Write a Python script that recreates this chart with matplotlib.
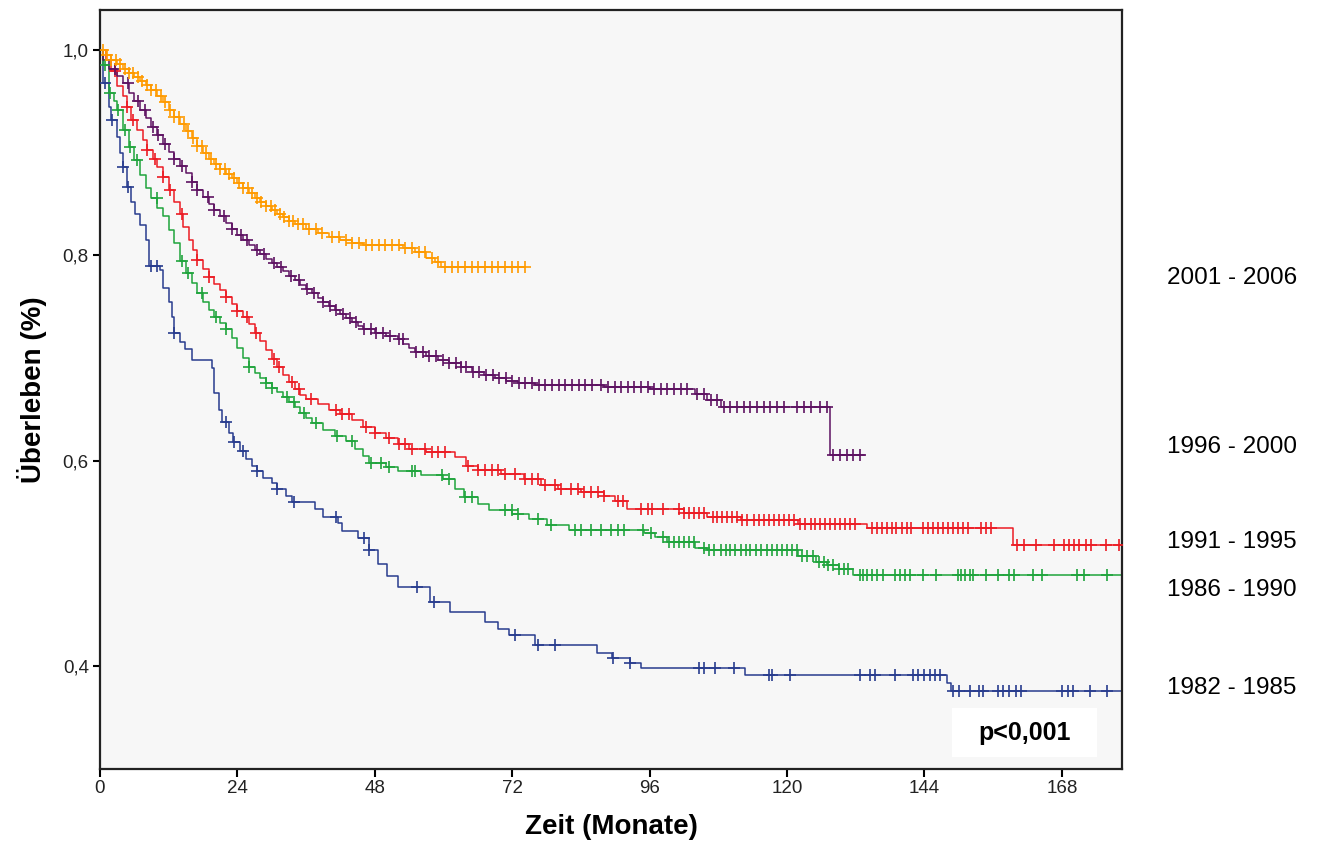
import numpy as np
import matplotlib.pyplot as plt
from matplotlib.patches import Rectangle

# Kaplan-Meier steps per period (time in months, survival after each step)
orange_t = [0, 1, 2, 3, 4, 5, 6, 7, 8, 9, 10, 11, 12, 13, 14, 15, 16, 17, 18, 19, 20,
            21, 22, 23, 24, 25, 26, 27, 28, 29, 30, 31, 32, 33, 34, 36, 38, 40, 42, 44,
            46, 53, 55, 57, 58.5, 59.5]
orange_s = [1.0, 0.995, 0.99, 0.986, 0.982, 0.978, 0.974, 0.970, 0.966, 0.961, 0.955,
            0.949, 0.942, 0.935, 0.928, 0.921, 0.914, 0.907, 0.900, 0.894, 0.889, 0.884,
            0.879, 0.875, 0.871, 0.866, 0.861, 0.856, 0.852, 0.848, 0.844, 0.840, 0.837,
            0.834, 0.831, 0.826, 0.822, 0.818, 0.815, 0.812, 0.810, 0.807, 0.803, 0.798,
            0.794, 0.789]
orange_end = 74.2
orange_cens = [0.5, 1.2, 2.0, 2.8, 3.5, 4.3, 5.0, 5.8, 6.6, 7.4, 8.2, 9.0, 9.8, 10.6, 11.4,
               12.2, 13.0, 13.8, 14.6, 15.4, 16.2, 17.0, 17.8, 18.6, 19.4, 20.2, 21.0, 21.8,
               22.6, 23.4, 24.2, 25.0, 25.8, 26.6, 27.4, 28.2, 29.0, 29.8, 30.6, 31.4, 32.2,
               33.0, 33.8, 34.6, 35.4, 36.5, 37.7, 38.8, 40.6, 41.7, 42.9, 44.1, 45.2, 46.4,
               47.5, 48.7, 49.8, 51.0, 52.2, 53.3, 54.5, 55.7, 56.8, 58.0, 59.1, 60.3, 61.4,
               62.6, 63.8, 64.9, 66.1, 67.2, 68.4, 69.6, 70.7, 71.9, 73.0, 74.2]

purple_t = [0, 0.5, 1.5, 3, 4, 5, 6, 7, 8, 9, 10, 11, 12, 13, 14, 15, 16, 17, 18, 19, 20,
            21, 22, 23, 24, 25, 26, 27, 28, 29, 30, 31, 32, 33, 34, 35, 36, 37, 38, 39, 40,
            41, 42, 43, 44, 45, 46, 48, 50, 52, 53, 54, 55, 57, 59, 61, 63, 65, 67, 69, 71,
            73, 76, 88, 96, 104, 106, 108.5, 127.5]
purple_s = [1.0, 0.99, 0.982, 0.975, 0.968, 0.958, 0.950, 0.942, 0.934, 0.925, 0.917,
            0.909, 0.901, 0.894, 0.887, 0.880, 0.872, 0.864, 0.857, 0.850, 0.844, 0.838,
            0.832, 0.826, 0.820, 0.815, 0.810, 0.805, 0.801, 0.797, 0.793, 0.789, 0.785,
            0.780, 0.776, 0.771, 0.767, 0.763, 0.759, 0.755, 0.751, 0.747, 0.743, 0.739,
            0.735, 0.731, 0.728, 0.725, 0.722, 0.719, 0.714, 0.710, 0.706, 0.702, 0.698,
            0.695, 0.691, 0.687, 0.684, 0.681, 0.678, 0.676, 0.674, 0.672, 0.670, 0.665,
            0.659, 0.652, 0.606]
purple_end = 133.4
purple_cens = [2.6, 4.9, 6.6, 7.8, 9.2, 10.1, 11.3, 13.0, 14.3, 16.0, 17.0, 18.8, 20.0,
               21.7, 23.0, 24.7, 25.7, 27.5, 28.7, 30.4, 31.7, 33.4, 34.8, 36.1, 37.3, 39.0,
               40.2, 41.3, 42.5, 43.6, 44.8, 46.2, 47.4, 48.3, 49.4, 50.6, 52.3, 52.9, 55.2,
               56.4, 57.5, 58.7, 59.9, 61.0, 62.2, 63.0, 63.9, 65.1, 66.2, 67.4, 68.6, 69.7,
               70.9, 72.0, 73.2, 74.3, 75.5, 76.7, 77.8, 79.0, 80.2, 81.3, 82.5, 83.7, 84.8,
               86.0, 87.5, 88.7, 89.9, 91.0, 92.2, 93.3, 94.5, 95.7, 96.8, 98.0, 99.1, 100.3,
               101.4, 102.6, 104.3, 105.5, 106.7, 107.8, 109.0, 110.1, 111.3, 112.5, 113.6,
               114.8, 115.9, 117.1, 118.3, 119.4, 121.7, 122.9, 124.1, 125.8, 127.0, 128.1,
               129.3, 130.4, 131.6, 132.8]

red_t = [0, 1, 2, 3, 4, 4.7, 5.5, 6.5, 7.5, 8.3, 9.2, 10, 11, 12, 13, 14, 14.5, 15.5, 16.3,
         17, 18, 19, 20, 21, 22, 23, 24, 25, 26, 27, 28, 29, 30, 31, 32, 33, 34, 35, 36, 38,
         40, 42, 44, 46, 48, 50, 52, 54, 57, 62, 64, 66, 70, 74, 77, 80, 84, 88, 90, 92, 102,
         106, 112, 122, 134, 159.5]
red_s = [1.0, 0.99, 0.98, 0.965, 0.955, 0.945, 0.932, 0.922, 0.912, 0.903, 0.894, 0.886,
         0.876, 0.864, 0.852, 0.840, 0.828, 0.815, 0.805, 0.796, 0.787, 0.779, 0.772, 0.766,
         0.760, 0.753, 0.746, 0.740, 0.733, 0.725, 0.717, 0.708, 0.699, 0.691, 0.684, 0.677,
         0.670, 0.664, 0.660, 0.655, 0.650, 0.646, 0.640, 0.633, 0.627, 0.622, 0.616, 0.612,
         0.609, 0.604, 0.595, 0.591, 0.587, 0.582, 0.577, 0.573, 0.570, 0.566, 0.561, 0.553,
         0.549, 0.545, 0.542, 0.539, 0.535, 0.518]
red_end = 178.5
red_cens = [2.6, 4.7, 5.7, 8.3, 9.6, 11.0, 12.2, 14.3, 17.0, 19.1, 22.1, 24.0, 25.6, 27.3,
            30.4, 31.3, 33.6, 34.8, 36.9, 41.2, 42.3, 43.5, 46.4, 48.1, 50.4, 52.2, 53.3,
            54.5, 56.8, 58.0, 59.1, 60.3, 64.3, 66.1, 67.2, 68.4, 69.6, 70.7, 72.5, 74.2,
            75.4, 76.5, 77.7, 79.4, 80.6, 82.3, 83.5, 84.6, 85.8, 87.0, 88.1, 90.4, 91.3,
            94.5, 95.7, 96.5, 98.3, 101.2, 102.0, 102.9, 103.8, 104.6, 105.5, 107.0, 107.8,
            108.7, 109.6, 110.4, 111.3, 112.2, 113.0, 114.2, 115.1, 115.9, 116.8, 117.7,
            118.6, 119.4, 120.3, 121.2, 122.3, 123.2, 124.1, 124.9, 125.8, 126.7, 127.5,
            128.4, 129.3, 130.1, 131.0, 131.9, 134.8, 135.7, 136.5, 137.4, 138.3, 139.1,
            140.0, 140.9, 141.7, 143.8, 144.6, 145.5, 146.4, 147.2, 148.1, 149.0, 149.9,
            150.7, 151.6, 153.9, 154.8, 155.7, 160.2, 161.4, 163.5, 166.7, 168.4, 169.3,
            170.2, 171.0, 172.3, 173.1, 175.7, 178.0]

green_t = [0, 0.5, 1.5, 2.5, 3, 4, 5, 6, 7, 8, 9, 10, 11, 12, 13, 14, 15, 16, 17, 18, 19,
           20, 21, 22, 23, 24, 25, 26, 27, 28, 29, 30, 31, 32, 33, 34, 35, 36, 37, 39, 41,
           43, 44.5, 46, 47, 50, 52, 56, 60, 62, 63.5, 66, 68, 72, 75, 78, 82, 95, 97, 99,
           104, 106, 122, 125, 127, 129, 131.5]
green_s = [1.0, 0.985, 0.958, 0.950, 0.942, 0.922, 0.906, 0.893, 0.878, 0.866, 0.856,
           0.846, 0.838, 0.825, 0.812, 0.795, 0.783, 0.773, 0.763, 0.755, 0.747, 0.740,
           0.734, 0.728, 0.720, 0.710, 0.700, 0.691, 0.686, 0.681, 0.676, 0.671, 0.667,
           0.662, 0.657, 0.652, 0.647, 0.642, 0.637, 0.630, 0.624, 0.619, 0.612, 0.605,
           0.598, 0.594, 0.590, 0.586, 0.582, 0.573, 0.565, 0.558, 0.552, 0.548, 0.543,
           0.538, 0.533, 0.530, 0.526, 0.521, 0.515, 0.513, 0.507, 0.502, 0.499, 0.495,
           0.489]
green_end = 178.5
green_cens = [0.9, 1.7, 3.1, 4.3, 5.2, 6.4, 9.9, 14.3, 15.3, 17.9, 20.3, 22.1, 26.1, 29.0,
              30.1, 32.7, 33.9, 35.7, 37.7, 41.4, 44.0, 47.3, 49.0, 50.4, 54.5, 55.1, 59.7,
              60.9, 63.8, 64.9, 70.7, 71.9, 73.0, 76.5, 78.8, 82.9, 84.1, 85.8, 87.5, 89.3,
              90.4, 91.6, 94.8, 96.2, 98.3, 99.4, 100.3, 101.2, 102.0, 102.9, 103.8, 105.5,
              106.4, 107.2, 108.4, 109.3, 110.1, 111.0, 111.9, 112.8, 113.6, 114.5, 115.4,
              116.5, 117.4, 118.3, 119.1, 120.0, 120.9, 121.7, 122.6, 123.5, 124.6, 125.5,
              126.4, 127.2, 128.1, 129.0, 129.9, 130.7, 132.8, 133.3, 133.9, 134.8, 135.7,
              136.8, 138.8, 139.7, 140.6, 141.4, 143.8, 146.1, 149.9, 150.4, 151.0, 151.9,
              152.5, 154.8, 156.8, 158.8, 159.7, 162.9, 164.6, 170.7, 171.9, 175.9]

blue_t = [0, 0.5, 1.5, 2, 3, 3.5, 4, 4.8, 5.5, 6.2, 7, 8, 8.5, 10.5, 11, 12, 12.6, 13, 14,
          14.8, 16, 19.5, 20, 20.8, 21.4, 22.5, 23.3, 24.5, 25.5, 26.5, 27.5, 28.5, 30, 31,
          32.5, 33.5, 37.5, 39, 41.5, 42.3, 45, 47, 48.5, 50.2, 52, 57.6, 61.2, 67.2, 69.5,
          71.5, 76, 86.8, 89.5, 92.5, 94.5, 112.6, 148, 148.6]
blue_s = [1.0, 0.968, 0.945, 0.932, 0.915, 0.900, 0.886, 0.867, 0.852, 0.840, 0.830, 0.815,
          0.790, 0.786, 0.768, 0.755, 0.740, 0.725, 0.716, 0.709, 0.698, 0.690, 0.666, 0.650,
          0.638, 0.627, 0.618, 0.610, 0.602, 0.595, 0.590, 0.583, 0.578, 0.573, 0.566, 0.560,
          0.553, 0.545, 0.540, 0.532, 0.525, 0.513, 0.500, 0.488, 0.477, 0.463, 0.453, 0.443,
          0.436, 0.430, 0.421, 0.413, 0.408, 0.403, 0.398, 0.392, 0.384, 0.376]
blue_end = 178.5
blue_cens = [0.9, 2.1, 4.0, 4.9, 9.0, 9.9, 13.0, 22.1, 23.5, 24.9, 27.5, 31.0, 33.9, 41.2,
             46.1, 47.0, 55.3, 58.3, 72.5, 76.5, 79.5, 89.6, 92.5, 104.6, 105.5, 107.5,
             110.7, 116.8, 117.4, 120.6, 132.8, 134.5, 135.4, 138.8, 142.0, 142.9, 144.0,
             144.9, 145.8, 146.7, 149.0, 150.1, 151.9, 153.6, 154.2, 156.8, 157.7, 158.8,
             160.0, 160.9, 168.1, 169.0, 169.9, 173.0, 175.9]

periods = ['2001 - 2006', '1996 - 2000', '1991 - 1995', '1986 - 1990', '1982 - 1985']
x_ticks = [0, 24, 48, 72, 96, 120, 144, 168]
y_ticks = [0.4, 0.6, 0.8, 1.0]
y_ticklabels = ['0,4', '0,6', '0,8', '1,0']

# layout / style
colors = ['#ff9a00', '#5e1262', '#ec1c24', '#1fa43c', '#283c8e']
label_y = [0.778, 0.614, 0.521, 0.474, 0.379]   # data-y of the right-hand labels
narrow = ['Liberation Sans Narrow', 'Liberation Sans', 'DejaVu Sans']
arial = ['Liberation Sans', 'DejaVu Sans']

fig = plt.figure(figsize=(13.22, 8.5), dpi=100)
ax = fig.add_axes([0.0756, 0.0953, 0.7731, 0.8929])
ax.set_facecolor('#f7f7f7')

groups = [
    (orange_t, orange_s, orange_end, orange_cens),
    (purple_t, purple_s, purple_end, purple_cens),
    (red_t, red_s, red_end, red_cens),
    (green_t, green_s, green_end, green_cens),
    (blue_t, blue_s, blue_end, blue_cens),
]

for (t, s, end, cens), col in zip(reversed(groups), reversed(colors)):
    t = np.array(t, float)
    s = np.array(s, float)
    ax.step(np.append(t, end), np.append(s, s[-1]), where='post', color=col, lw=1.1,
            zorder=2)
    c = np.array(cens, float)
    cy = s[np.searchsorted(t, c, side='right') - 1]
    ax.plot(c, cy, ls='none', marker='+', ms=8.5, mew=1.2, color=col, zorder=3)

ax.set_xlim(0, 178.5)
ax.set_ylim(0.30, 1.039)

ax.set_xticks(x_ticks)
ax.set_xticklabels([str(v) for v in x_ticks], family=narrow, fontsize=13.5,
                   color='#222222')
ax.set_yticks(y_ticks)
ax.set_yticklabels(y_ticklabels, family=narrow, fontsize=13.5, color='#222222')
ax.tick_params(axis='x', direction='out', length=6, width=1.5, pad=2)
ax.tick_params(axis='y', direction='out', length=5, width=1.5, pad=3)

for sp in ax.spines.values():
    sp.set_linewidth(1.6)
    sp.set_color('#222222')

ax.set_xlabel('Zeit (Monate)', family=arial, fontsize=20, fontweight='bold', labelpad=12)
ax.set_ylabel('Überleben (%)', family=arial, fontsize=20, fontweight='bold')
ax.yaxis.set_label_coords(-0.052, 0.5)

# p-value box
ax.add_patch(Rectangle((0.834, 0.016), 0.142, 0.064, transform=ax.transAxes,
                       facecolor='white', edgecolor='none', zorder=4))
ax.text(0.905, 0.048, 'p<0,001', transform=ax.transAxes, ha='center', va='center',
        family=arial, fontsize=18, fontweight='bold', zorder=5)

# group labels right of the plot
for lab, ly in zip(periods, label_y):
    ax.text(1.044, ly, lab, transform=ax.get_yaxis_transform(), ha='left',
            va='center', family=arial, fontsize=17.5, clip_on=False)

fig.savefig('out.png', dpi=100)
